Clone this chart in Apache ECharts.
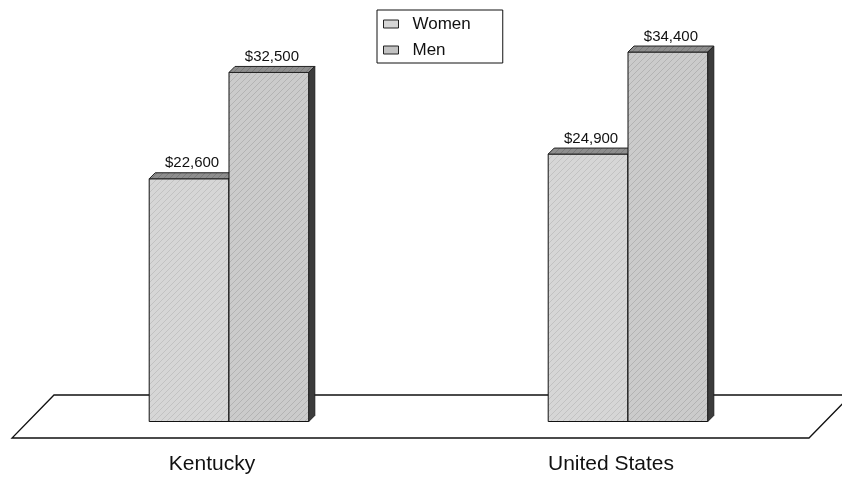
<!DOCTYPE html>
<html>
<head>
<meta charset="utf-8">
<script src="https://cdn.jsdelivr.net/npm/echarts@6/dist/echarts.min.js"></script>
<style>
  html, body { margin: 0; padding: 0; background: #fff; }
  #chart { width: 842px; height: 477px; }
</style>
</head>
<body>
<div id="chart"></div>
<script>
// Median earnings by sex
const categories = ['Kentucky', 'United States'];
const seriesNames = ['Women', 'Men'];
const womenValues = [22600, 24900];
const menValues = [32500, 34400];

const FONT = '"Liberation Sans", Arial, Helvetica, sans-serif';
const DEPTH_X = 6;   // 3-D extrusion of each bar
const DEPTH_Y = 6;

// Grainy diagonal fill used on the bar faces
function makePattern(base, streak) {
  const c = document.createElement('canvas');
  c.width = 6; c.height = 6;
  const g = c.getContext('2d');
  g.fillStyle = base;
  g.fillRect(0, 0, 6, 6);
  g.strokeStyle = streak;
  g.lineWidth = 1;
  g.beginPath();
  g.moveTo(0, 6); g.lineTo(6, 0);
  g.moveTo(-3, 3); g.lineTo(3, -3);
  g.moveTo(3, 9); g.lineTo(9, 3);
  g.stroke();
  return { image: c, repeat: 'repeat' };
}
const womenFill = makePattern('#d6d6d6', '#c2c2c2');
const menFill = makePattern('#cbcbcb', '#b3b3b3');
const topFill = makePattern('#8e8e8e', '#7a7a7a');

function fmt(v) {
  return '$' + v.toLocaleString('en-US');
}

function barRenderer(seriesIndex, fill) {
  return function (params, api) {
    const cat = api.value(0);
    const val = api.value(1);
    const base = api.coord([cat, 0]);
    const top = api.coord([cat, val]);
    const band = api.size([1, 0])[0];
    const w = band * 0.2;
    const x0 = seriesIndex === 0 ? base[0] - w : base[0];
    const y0 = top[1];
    const y1 = base[1];
    return {
      type: 'group',
      children: [
        {
          type: 'rect',
          shape: { x: x0, y: y0, width: w, height: y1 - y0 },
          style: { fill: fill, stroke: '#111', lineWidth: 1 }
        },
        {
          type: 'polygon',
          shape: { points: [[x0, y0], [x0 + DEPTH_X, y0 - DEPTH_Y], [x0 + w + DEPTH_X, y0 - DEPTH_Y], [x0 + w, y0]] },
          style: { fill: topFill, stroke: '#222', lineWidth: 1 }
        },
        {
          type: 'polygon',
          shape: { points: [[x0 + w, y0], [x0 + w + DEPTH_X, y0 - DEPTH_Y], [x0 + w + DEPTH_X, y1 - DEPTH_Y], [x0 + w, y1]] },
          style: { fill: '#3c3c3c', stroke: '#222', lineWidth: 1 }
        },
        {
          type: 'text',
          style: {
            x: x0 + w / 2 + DEPTH_X / 2,
            y: y0 - DEPTH_Y - 2,
            text: fmt(val),
            align: 'center',
            verticalAlign: 'bottom',
            font: '15px ' + FONT,
            fill: '#111'
          }
        }
      ]
    };
  };
}

const chart = echarts.init(document.getElementById('chart'), null, { renderer: 'canvas' });

// Floor slab drawn beneath the bars
const floorTop = 395, floorBottom = 438;
chart.setOption({
  animation: false,
  backgroundColor: '#fff',
  grid: { left: 29.5, right: 14.5, top: 45.6, bottom: 55.5, containLabel: false },
  xAxis: {
    type: 'category',
    data: categories,
    axisLine: { show: false },
    axisTick: { show: false },
    axisLabel: {
      margin: 32,
      fontSize: 21,
      fontFamily: FONT,
      color: '#111',
      padding: [0, 34, 0, 0]
    }
  },
  yAxis: {
    type: 'value',
    min: 0,
    max: 35000,
    show: false
  },
  legend: {
    orient: 'vertical',
    left: 377,
    top: 10,
    padding: [5, 32, 4, 6],
    itemGap: 8,
    itemWidth: 15,
    itemHeight: 8,
    icon: 'rect',
    borderColor: '#111',
    borderWidth: 1,
    backgroundColor: '#fff',
    textStyle: { fontSize: 17, fontFamily: FONT, color: '#111', lineHeight: 18, padding: [0, 0, 0, 9] },
    data: seriesNames.map(function (n) {
      return { name: n, itemStyle: { borderColor: '#222', borderWidth: 1 } };
    })
  },
  graphic: [{
    type: 'polygon',
    z: -10,
    shape: { points: [[54, floorTop], [851, floorTop], [809, floorBottom], [12, floorBottom]] },
    style: { fill: '#fff', stroke: '#111', lineWidth: 1.3 }
  }],
  series: [
    {
      name: seriesNames[0],
      type: 'custom',
      renderItem: barRenderer(0, womenFill),
      itemStyle: { color: '#d6d6d6' },
      data: womenValues.map(function (v, i) { return [i, v]; }),
      encode: { x: 0, y: 1 }
    },
    {
      name: seriesNames[1],
      type: 'custom',
      renderItem: barRenderer(1, menFill),
      itemStyle: { color: '#c2c2c2' },
      data: menValues.map(function (v, i) { return [i, v]; }),
      encode: { x: 0, y: 1 }
    }
  ]
});
</script>
</body>
</html>
